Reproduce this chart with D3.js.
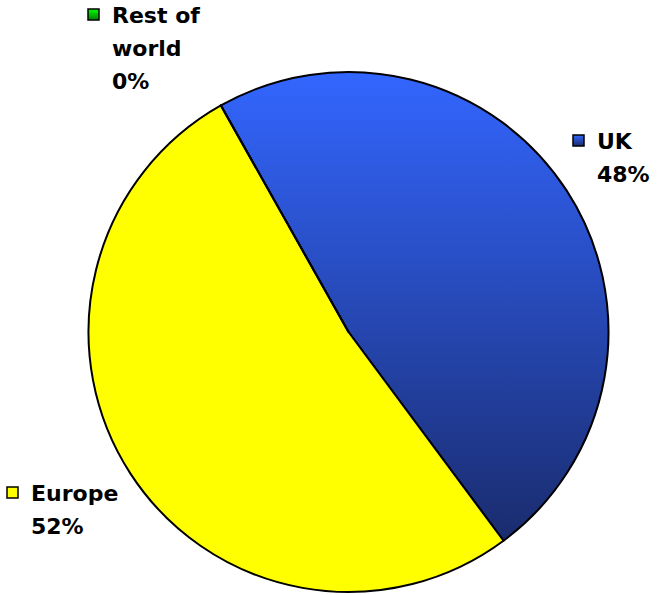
<!DOCTYPE html>
<html>
<head>
<meta charset="utf-8">
<script src="https://cdn.jsdelivr.net/npm/d3@7"></script>
<style>
  body { margin: 0; background: #fff; }
  text { font-family: "DejaVu Sans", Verdana, sans-serif; font-weight: bold; font-size: 22px; fill: #000; }
</style>
</head>
<body>
<svg id="chart" width="659" height="595"></svg>
<script>
var categories = ["UK", "Europe", "Rest of world"];
var values = [48, 52, 0];
var labels = ["48%", "52%", "0%"];

var svg = d3.select("#chart");
var cx = 348.5, cy = 332, radius = 260;

var defs = svg.append("defs");
var blue = defs.append("linearGradient").attr("id", "gBlue")
	.attr("x1", 0).attr("y1", 0).attr("x2", 0).attr("y2", 1);
blue.append("stop").attr("offset", "0%").attr("stop-color", "#3366ff");
blue.append("stop").attr("offset", "100%").attr("stop-color", "#1a2c6e");
var green = defs.append("linearGradient").attr("id", "gGreen")
	.attr("x1", 0).attr("y1", 0).attr("x2", 0).attr("y2", 1);
green.append("stop").attr("offset", "0%").attr("stop-color", "#00ff00");
green.append("stop").attr("offset", "100%").attr("stop-color", "#008000");

var fills = ["url(#gBlue)", "#ffff00", "url(#gGreen)"];

// UK starts a bit left of 12 o'clock, going clockwise
var start = -29.4 * Math.PI / 180;
var pie = d3.pie().sort(null).value(function(d) { return d; })
	.startAngle(start).endAngle(start + 2 * Math.PI);
var arc = d3.arc().innerRadius(0).outerRadius(radius);

svg.append("g")
	.attr("transform", "translate(" + cx + "," + cy + ")")
	.selectAll("path")
	.data(pie(values))
	.enter().append("path")
	.attr("d", arc)
	.attr("fill", function(d, i) { return fills[i]; })
	.attr("stroke", "#000")
	.attr("stroke-width", 2)
	.attr("stroke-linejoin", "round");

// label blocks: [square x, square y, text lines]
var labelPos = [
	{x: 573, y: 135, lines: ["UK", labels[0]]},
	{x: 7, y: 487, lines: ["Europe", labels[1]]},
	{x: 88, y: 9, lines: ["Rest of", "world", labels[2]]}
];

var lab = svg.append("g").selectAll("g")
	.data(labelPos)
	.enter().append("g")
	.attr("transform", function(d) { return "translate(" + d.x + "," + d.y + ")"; });

lab.append("rect")
	.attr("width", 11).attr("height", 11)
	.attr("fill", function(d, i) { return fills[i]; })
	.attr("stroke", "#000").attr("stroke-width", 1.5);

lab.append("text")
	.attr("x", 24).attr("y", 14)
	.selectAll("tspan")
	.data(function(d) { return d.lines; })
	.enter().append("tspan")
	.attr("x", 24)
	.attr("dy", function(d, i) { return i == 0 ? 0 : 33; })
	.text(function(d) { return d; });
</script>
</body>
</html>
